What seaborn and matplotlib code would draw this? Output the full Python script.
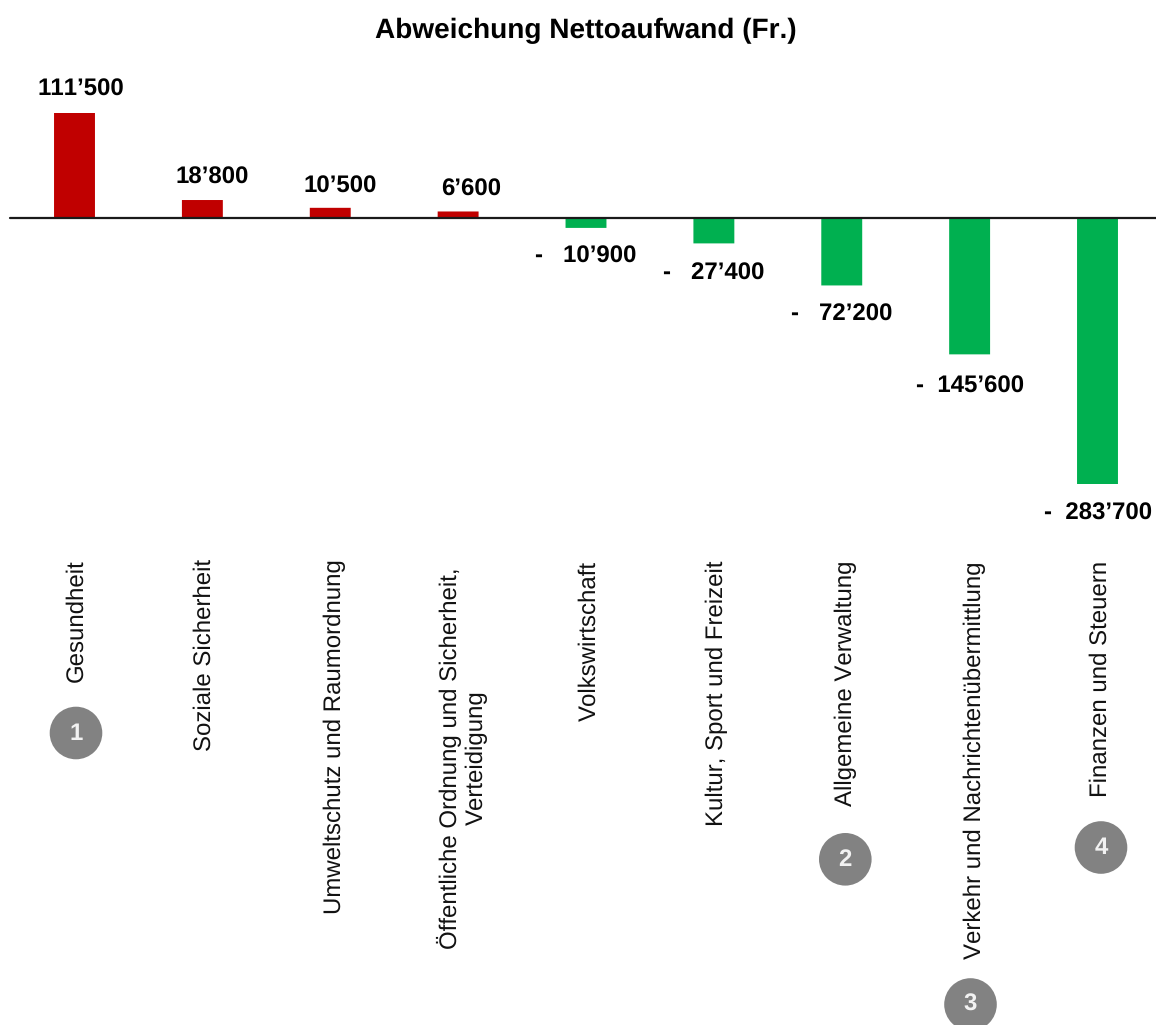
import matplotlib
matplotlib.use("Agg")
import matplotlib.pyplot as plt
import seaborn as sns
import pandas as pd
from matplotlib.patches import Circle

categories = ["Gesundheit", "Soziale Sicherheit", "Umweltschutz und Raumordnung",
              "Öffentliche Ordnung und Sicherheit,\nVerteidigung", "Volkswirtschaft",
              "Kultur, Sport und Freizeit", "Allgemeine Verwaltung",
              "Verkehr und Nachrichtenübermittlung", "Finanzen und Steuern"]
values = [111500, 18800, 10500, 6600, -10900, -27400, -72200, -145600, -283700]
value_labels = ["111’500", "18’800", "10’500", "6’600", "-   10’900", "-   27’400", "-   72’200", "-  145’600", "-  283’700"]
bar_colors = ["#C00000"] * 4 + ["#00B050"] * 5
badges = [("1", 76, 733), ("2", 845.3, 859.3), ("3", 970.5, 1004.5), ("4", 1101, 847.5)]

W, H = 1156, 1025
sns.set_theme(style="white")
plt.rcParams["font.family"] = ["Liberation Sans", "DejaVu Sans"]
plt.rcParams["text.hinting"] = "no_hinting"
plt.rcParams["text.hinting_factor"] = 1
plt.rcParams["text.kerning_factor"] = 12
fig = plt.figure(figsize=(W/100, H/100), dpi=100)
x_left, x_right = 10, 1156
y_top, y_bot = 113, 484
ax = fig.add_axes([x_left/W, 1-y_bot/H, (x_right-x_left)/W, (y_bot-y_top)/H])
df = pd.DataFrame({"cat": categories, "val": values})
sns.barplot(data=df, x="cat", y="val", hue="cat", palette=bar_colors, legend=False,
            width=0.32, ax=ax, saturation=1)
for p in ax.patches:
    p.set_snap(False)
    p.set_linewidth(0)
ax.set_ylim(min(values), max(values))
ax.axis("off")
ax.axhline(0, color="#1a1a1a", lw=1.6, clip_on=False, zorder=5)
ax.set_xlim((x_left-74.5)/127.875, (x_right-74.5)/127.875)

label_px = [87.5, 175, 184, 187, 254, 271, 312, 384, 511]
label_x = [81, 212, 340, 471, 585.5, 713.5, 841.5, 970, 1098]
for lab, px, lx in zip(value_labels, label_px, label_x):
    fig.text(lx/W, 1-px/H, lab, ha="center", va="center_baseline", fontsize=17.3, fontweight="bold", color="black")

fig.text(585.5/W, 1-31/H, "Abweichung Nettoaufwand (Fr.)", ha="center", va="center",
         fontsize=20, fontweight="bold", color="black")

cat_x = [76, 204.5, 334.5, 462.5, 589, 716.5, 846, 974.5, 1100.5]
cat_top = [559, 559, 559, 567, 561, 561, 561, 561, 561]
for c, cx, cy in zip(categories, cat_x, cat_top):
    fig.text(cx/W, 1-cy/H, c, rotation=90, ha="center", va="top",
             fontsize=17.1, color="#111111", linespacing=1.22, multialignment="center")

overlay = fig.add_axes([0, 0, 1, 1])
overlay.set_xlim(0, W); overlay.set_ylim(H, 0); overlay.axis("off"); overlay.patch.set_alpha(0)
for txt, cx, cy in badges:
    overlay.add_patch(Circle((cx, cy), 26.3, color="#828282", lw=0))
    overlay.text(cx, cy + 0.5, txt, ha="center", va="center", fontsize=17, fontweight="bold", color="#F2F2F2")

fig.savefig("out.png", dpi=100)
